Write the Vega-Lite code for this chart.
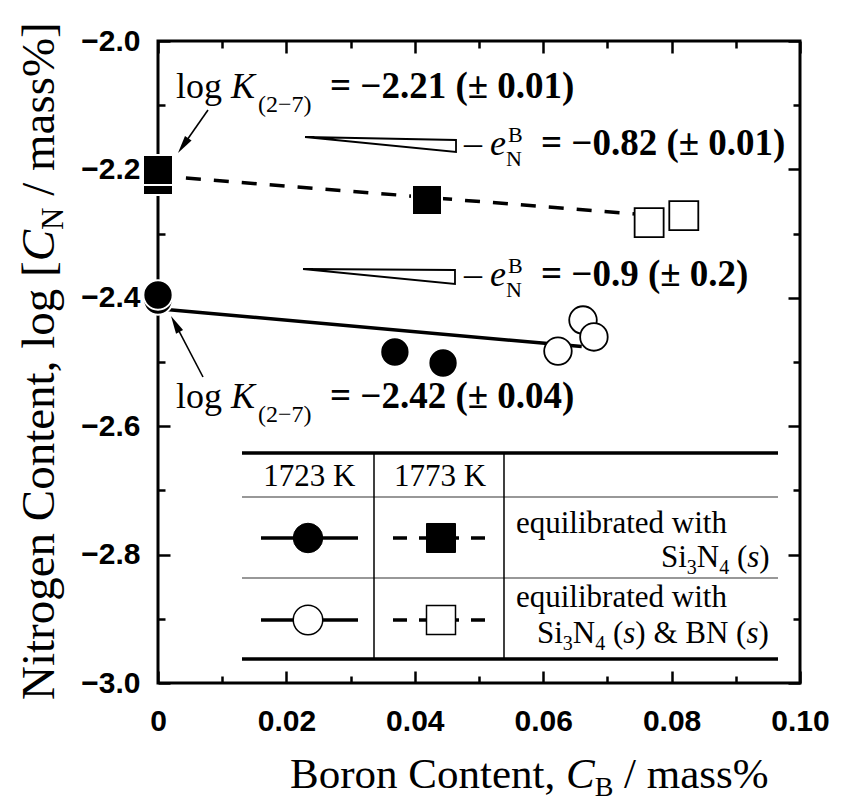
{
  "$schema": "https://vega.github.io/schema/vega-lite/v6.json",
  "width": 642,
  "height": 642,
  "autosize": {"type": "none"},
  "padding": {"left": 158, "top": 41, "right": 43, "bottom": 126},
  "background": "white",
  "config": {
    "view": {"stroke": "black", "strokeWidth": 3},
    "axis": {"grid": false, "domain": false, "tickColor": "black", "tickWidth": 2.5, "labelColor": "black", "labelFont": "Liberation Sans", "labelFontWeight": "bold", "labelFontSize": 30, "labelFlush": false, "labelOverlap": false, "labelBound": false}
  },
  "resolve": {"axis": {"x": "independent", "y": "independent"}},
  "encoding": {
    "x": {"field": "x", "type": "quantitative", "scale": {"domain": [0, 0.1], "nice": false, "zero": false}, "axis": null},
    "y": {"field": "y", "type": "quantitative", "scale": {"domain": [-3, -2], "nice": false, "zero": false}, "axis": null}
  },
  "datasets": {
    "sq1773": [{"x": 0, "y": -2.2165}, {"x": 0, "y": -2.2009}, {"x": 0.0419, "y": -2.2477}],
    "sqBN1773": [{"x": 0.0765, "y": -2.283}, {"x": 0.0819, "y": -2.272}],
    "circ1723": [{"x": 0, "y": -2.4034}, {"x": 0, "y": -2.3956}, {"x": 0.0369, "y": -2.4844}, {"x": 0.0444, "y": -2.5016}],
    "circBN1723": [{"x": 0.0662, "y": -2.4346}, {"x": 0.0623, "y": -2.483}, {"x": 0.0679, "y": -2.461}],
    "fit1773": [{"x": 0, "y": -2.21}, {"x": 0.0745, "y": -2.2696}],
    "fit1723": [{"x": 0, "y": -2.417}, {"x": 0.066, "y": -2.476}],
    "tabThick": [{"x": 0.013084, "x2": 0.096573, "y": -2.64174}, {"x": 0.013084, "x2": 0.096573, "y": -2.96262}],
    "tabThin": [{"x": 0.013084, "x2": 0.096573, "y": -2.71028}, {"x": 0.013084, "x2": 0.096573, "y": -2.83645}],
    "tabVert": [{"x": 0.033645, "y": -2.64174, "y2": -2.96262}, {"x": 0.053894, "y": -2.64174, "y2": -2.96262}],
    "keySolid": [{"x": 0.016044, "x2": 0.031153, "y": -2.77414}, {"x": 0.016044, "x2": 0.031153, "y": -2.90187}],
    "keyDash": [{"x": 0.036604, "x2": 0.051713, "y": -2.77414}, {"x": 0.036604, "x2": 0.051713, "y": -2.90187}],
    "keyFilledCircle": [{"x": 0.023364, "y": -2.77414}],
    "keyOpenCircle": [{"x": 0.023364, "y": -2.90187}],
    "keyFilledSquare": [{"x": 0.044081, "y": -2.77414}],
    "keyOpenSquare": [{"x": 0.044081, "y": -2.90187}],
    "wedges": [
      {"id": 1, "i": 0, "x": 0.0229, "y": -2.14953}, {"id": 1, "i": 1, "x": 0.04642, "y": -2.15421}, {"id": 1, "i": 2, "x": 0.04642, "y": -2.1729}, {"id": 1, "i": 3, "x": 0.0229, "y": -2.14953},
      {"id": 2, "i": 0, "x": 0.02259, "y": -2.35514}, {"id": 2, "i": 1, "x": 0.04626, "y": -2.3567}, {"id": 2, "i": 2, "x": 0.04626, "y": -2.3785}, {"id": 2, "i": 3, "x": 0.02259, "y": -2.35514}
    ],
    "arrowShafts": [{"id": 1, "x": 0.007788, "y": -2.10748}, {"id": 1, "x": 0.004003, "y": -2.16168}, {"id": 2, "x": 0.007009, "y": -2.52336}, {"id": 2, "x": 0.002766, "y": -2.44206}],
    "arrowHead1": [{"x": 0.004003, "y": -2.16168}],
    "arrowHead2": [{"x": 0.002766, "y": -2.44206}],
    "annNormal": [{"x": 0.002804, "y": -2.08879, "t": "log"}, {"x": 0.002804, "y": -2.57165, "t": "log"}, {"x": 0.047664, "y": -2.17757, "t": "–"}, {"x": 0.047664, "y": -2.38162, "t": "–"}],
    "annItalic": [{"x": 0.011371, "y": -2.08879, "t": "K"}, {"x": 0.011371, "y": -2.57165, "t": "K"}, {"x": 0.051713, "y": -2.17757, "t": "e"}, {"x": 0.051713, "y": -2.38162, "t": "e"}],
    "annSub": [{"x": 0.015576, "y": -2.11059, "t": "(2−7)"}, {"x": 0.015576, "y": -2.59346, "t": "(2−7)"}],
    "annSmall": [{"x": 0.054517, "y": -2.15732, "t": "B"}, {"x": 0.054206, "y": -2.1947, "t": "N"}, {"x": 0.054517, "y": -2.36137, "t": "B"}, {"x": 0.054206, "y": -2.39875, "t": "N"}],
    "annBold": [{"x": 0.026791, "y": -2.08879, "t": "= −2.21 (± 0.01)"}, {"x": 0.026791, "y": -2.57165, "t": "= −2.42 (± 0.04)"}, {"x": 0.059657, "y": -2.17757, "t": "= −0.82 (± 0.01)"}, {"x": 0.059657, "y": -2.38162, "t": "= −0.9 (± 0.2)"}],
    "tabHead": [{"x": 0.023583, "y": -2.69315, "t": "1723 K"}, {"x": 0.043925, "y": -2.69315, "t": "1773 K"}],
    "tabNormal": [
      {"x": 0.055763, "y": -2.76636, "t": "equilibrated with"}, {"x": 0.055763, "y": -2.88162, "t": "equilibrated with"},
      {"x": 0.078349, "y": -2.81931, "t": "Si"}, {"x": 0.083933, "y": -2.81931, "t": "N"}, {"x": 0.090184, "y": -2.81931, "t": "("}, {"x": 0.09367, "y": -2.81931, "t": ")"},
      {"x": 0.059034, "y": -2.93769, "t": "Si"}, {"x": 0.064618, "y": -2.93769, "t": "N"}, {"x": 0.070869, "y": -2.93769, "t": "("}, {"x": 0.074355, "y": -2.93769, "t": ") & BN ("}, {"x": 0.093534, "y": -2.93769, "t": ")"}
    ],
    "tabItalic": [{"x": 0.091791, "y": -2.81931, "t": "s"}, {"x": 0.072477, "y": -2.93769, "t": "s"}, {"x": 0.091656, "y": -2.93769, "t": "s"}],
    "tabSub": [{"x": 0.082375, "y": -2.83022, "t": "3"}, {"x": 0.087419, "y": -2.83022, "t": "4"}, {"x": 0.063061, "y": -2.9486, "t": "3"}, {"x": 0.068104, "y": -2.9486, "t": "4"}],
    "xTitleNormal": [{"x": 0.020561, "y": -3.16355, "t": "Boron Content,"}, {"x": 0.072601, "y": -3.16355, "t": "/ mass%"}],
    "xTitleItalic": [{"x": 0.063544, "y": -3.16355, "t": "C"}],
    "xTitleSub": [{"x": 0.068014, "y": -3.17601, "t": "B"}],
    "yTitleNormal": [{"x": -0.016199, "y": -3.02648, "t": "Nitrogen Content, log ["}, {"x": -0.016199, "y": -2.2412, "t": "/ mass%]"}],
    "yTitleItalic": [{"x": -0.016199, "y": -2.34315, "t": "C"}],
    "yTitleSub": [{"x": -0.014798, "y": -2.29439, "t": "N"}]
  },
  "layer": [
    {"data": {"name": "tabThick"}, "mark": {"type": "rule", "color": "black", "strokeWidth": 3.5}, "encoding": {"x2": {"field": "x2"}}},
    {"data": {"name": "tabThin"}, "mark": {"type": "rule", "color": "#333333", "strokeWidth": 1.2}, "encoding": {"x2": {"field": "x2"}}},
    {"data": {"name": "tabVert"}, "mark": {"type": "rule", "color": "black", "strokeWidth": 1.5}, "encoding": {"y2": {"field": "y2"}}},
    {"data": {"name": "keySolid"}, "mark": {"type": "rule", "color": "black", "strokeWidth": 3.5}, "encoding": {"x2": {"field": "x2"}}},
    {"data": {"name": "keyDash"}, "mark": {"type": "rule", "color": "black", "strokeWidth": 3.5, "strokeDash": [14, 12]}, "encoding": {"x2": {"field": "x2"}}},
    {"data": {"name": "wedges"}, "mark": {"type": "line", "color": "black", "strokeWidth": 1.8, "strokeJoin": "miter"}, "encoding": {"detail": {"field": "id"}, "order": {"field": "i", "type": "quantitative"}}},
    {"data": {"name": "arrowShafts"}, "mark": {"type": "line", "color": "black", "strokeWidth": 1.6}, "encoding": {"detail": {"field": "id"}}},
    {"data": {"name": "arrowHead1"}, "mark": {"type": "point", "shape": "M0,-1L0.4,0.8L-0.4,0.8Z", "filled": true, "color": "black", "opacity": 1, "size": 400, "angle": 215}, "encoding": {}},
    {"data": {"name": "arrowHead2"}, "mark": {"type": "point", "shape": "M0,-1L0.4,0.8L-0.4,0.8Z", "filled": true, "color": "black", "opacity": 1, "size": 400, "angle": 331.6}, "encoding": {}},
    {
      "data": {"name": "fit1723"},
      "mark": {"type": "line", "color": "black", "strokeWidth": 3.5},
      "encoding": {
        "x": {"field": "x", "type": "quantitative", "scale": {"domain": [0, 0.1], "nice": false, "zero": false}, "axis": {"orient": "bottom", "values": [0, 0.02, 0.04, 0.06, 0.08, 0.1], "tickSize": -12, "labelPadding": 35, "labelExpr": "datum.value === 0 ? '0' : format(datum.value, '.2f')", "title": null}},
        "y": {"field": "y", "type": "quantitative", "scale": {"domain": [-3, -2], "nice": false, "zero": false}, "axis": {"orient": "left", "values": [-3, -2.8, -2.6, -2.4, -2.2, -2], "tickSize": -12, "labelPadding": 30, "format": ".1f", "title": null}}
      }
    },
    {
      "data": {"name": "fit1773"},
      "mark": {"type": "line", "color": "black", "strokeWidth": 3.5, "strokeDash": [15, 13]},
      "encoding": {
        "x": {"field": "x", "type": "quantitative", "scale": {"domain": [0, 0.1], "nice": false, "zero": false}, "axis": {"orient": "top", "values": [0, 0.02, 0.04, 0.06, 0.08, 0.1], "tickSize": -12, "labels": false, "title": null}},
        "y": {"field": "y", "type": "quantitative", "scale": {"domain": [-3, -2], "nice": false, "zero": false}, "axis": {"orient": "right", "values": [-3, -2.8, -2.6, -2.4, -2.2, -2], "tickSize": -12, "labels": false, "title": null}}
      }
    },
    {
      "data": {"name": "circ1723"},
      "mark": {"type": "point", "shape": "circle", "filled": true, "fill": "black", "stroke": "white", "strokeWidth": 2, "size": 860, "opacity": 1},
      "encoding": {
        "x": {"field": "x", "type": "quantitative", "scale": {"domain": [0, 0.1], "nice": false, "zero": false}, "axis": {"orient": "bottom", "values": [0.01, 0.03, 0.05, 0.07, 0.09], "tickSize": -7, "labels": false, "title": null}},
        "y": {"field": "y", "type": "quantitative", "scale": {"domain": [-3, -2], "nice": false, "zero": false}, "axis": {"orient": "left", "values": [-2.9, -2.7, -2.5, -2.3, -2.1], "tickSize": -7, "labels": false, "title": null}}
      }
    },
    {
      "data": {"name": "sq1773"},
      "mark": {"type": "point", "shape": "square", "filled": true, "fill": "black", "stroke": "white", "strokeWidth": 2, "size": 900, "opacity": 1},
      "encoding": {
        "x": {"field": "x", "type": "quantitative", "scale": {"domain": [0, 0.1], "nice": false, "zero": false}, "axis": {"orient": "top", "values": [0.01, 0.03, 0.05, 0.07, 0.09], "tickSize": -7, "labels": false, "title": null}},
        "y": {"field": "y", "type": "quantitative", "scale": {"domain": [-3, -2], "nice": false, "zero": false}, "axis": {"orient": "right", "values": [-2.9, -2.7, -2.5, -2.3, -2.1], "tickSize": -7, "labels": false, "title": null}}
      }
    },
    {"data": {"name": "circBN1723"}, "mark": {"type": "point", "shape": "circle", "filled": true, "fill": "white", "stroke": "black", "strokeWidth": 1.8, "size": 760, "opacity": 1}, "encoding": {}},
    {"data": {"name": "sqBN1773"}, "mark": {"type": "point", "shape": "square", "filled": true, "fill": "white", "stroke": "black", "strokeWidth": 1.8, "size": 841, "opacity": 1}, "encoding": {}},
    {"data": {"name": "keyFilledCircle"}, "mark": {"type": "point", "shape": "circle", "filled": true, "fill": "black", "stroke": "black", "strokeWidth": 1, "size": 870, "opacity": 1}, "encoding": {}},
    {"data": {"name": "keyOpenCircle"}, "mark": {"type": "point", "shape": "circle", "filled": true, "fill": "white", "stroke": "black", "strokeWidth": 1.5, "size": 870, "opacity": 1}, "encoding": {}},
    {"data": {"name": "keyFilledSquare"}, "mark": {"type": "point", "shape": "square", "filled": true, "fill": "black", "stroke": "black", "strokeWidth": 1, "size": 841, "opacity": 1}, "encoding": {}},
    {"data": {"name": "keyOpenSquare"}, "mark": {"type": "point", "shape": "square", "filled": true, "fill": "white", "stroke": "black", "strokeWidth": 1.5, "size": 841, "opacity": 1}, "encoding": {}},
    {"data": {"name": "annNormal"}, "mark": {"type": "text", "font": "Liberation Serif", "fontSize": 36, "align": "left", "baseline": "alphabetic", "color": "black"}, "encoding": {"text": {"field": "t"}}},
    {"data": {"name": "annItalic"}, "mark": {"type": "text", "font": "Liberation Serif", "fontSize": 36, "fontStyle": "italic", "align": "left", "baseline": "alphabetic", "color": "black"}, "encoding": {"text": {"field": "t"}}},
    {"data": {"name": "annSub"}, "mark": {"type": "text", "font": "Liberation Serif", "fontSize": 24, "align": "left", "baseline": "alphabetic", "color": "black"}, "encoding": {"text": {"field": "t"}}},
    {"data": {"name": "annSmall"}, "mark": {"type": "text", "font": "Liberation Serif", "fontSize": 22, "align": "left", "baseline": "alphabetic", "color": "black"}, "encoding": {"text": {"field": "t"}}},
    {"data": {"name": "annBold"}, "mark": {"type": "text", "font": "Liberation Serif", "fontSize": 37, "fontWeight": "bold", "align": "left", "baseline": "alphabetic", "color": "black"}, "encoding": {"text": {"field": "t"}}},
    {"data": {"name": "tabHead"}, "mark": {"type": "text", "font": "Liberation Serif", "fontSize": 31, "align": "center", "baseline": "alphabetic", "color": "black"}, "encoding": {"text": {"field": "t"}}},
    {"data": {"name": "tabNormal"}, "mark": {"type": "text", "font": "Liberation Serif", "fontSize": 31, "align": "left", "baseline": "alphabetic", "color": "black"}, "encoding": {"text": {"field": "t"}}},
    {"data": {"name": "tabItalic"}, "mark": {"type": "text", "font": "Liberation Serif", "fontSize": 31, "fontStyle": "italic", "align": "left", "baseline": "alphabetic", "color": "black"}, "encoding": {"text": {"field": "t"}}},
    {"data": {"name": "tabSub"}, "mark": {"type": "text", "font": "Liberation Serif", "fontSize": 20, "align": "left", "baseline": "alphabetic", "color": "black"}, "encoding": {"text": {"field": "t"}}},
    {"data": {"name": "xTitleNormal"}, "mark": {"type": "text", "font": "Liberation Serif", "fontSize": 43, "align": "left", "baseline": "alphabetic", "color": "black"}, "encoding": {"text": {"field": "t"}}},
    {"data": {"name": "xTitleItalic"}, "mark": {"type": "text", "font": "Liberation Serif", "fontSize": 43, "fontStyle": "italic", "align": "left", "baseline": "alphabetic", "color": "black"}, "encoding": {"text": {"field": "t"}}},
    {"data": {"name": "xTitleSub"}, "mark": {"type": "text", "font": "Liberation Serif", "fontSize": 28, "align": "left", "baseline": "alphabetic", "color": "black"}, "encoding": {"text": {"field": "t"}}},
    {"data": {"name": "yTitleNormal"}, "mark": {"type": "text", "font": "Liberation Serif", "fontSize": 47, "angle": 270, "align": "left", "baseline": "alphabetic", "color": "black"}, "encoding": {"text": {"field": "t"}}},
    {"data": {"name": "yTitleItalic"}, "mark": {"type": "text", "font": "Liberation Serif", "fontSize": 47, "fontStyle": "italic", "angle": 270, "align": "left", "baseline": "alphabetic", "color": "black"}, "encoding": {"text": {"field": "t"}}},
    {"data": {"name": "yTitleSub"}, "mark": {"type": "text", "font": "Liberation Serif", "fontSize": 31, "angle": 270, "align": "left", "baseline": "alphabetic", "color": "black"}, "encoding": {"text": {"field": "t"}}}
  ]
}
